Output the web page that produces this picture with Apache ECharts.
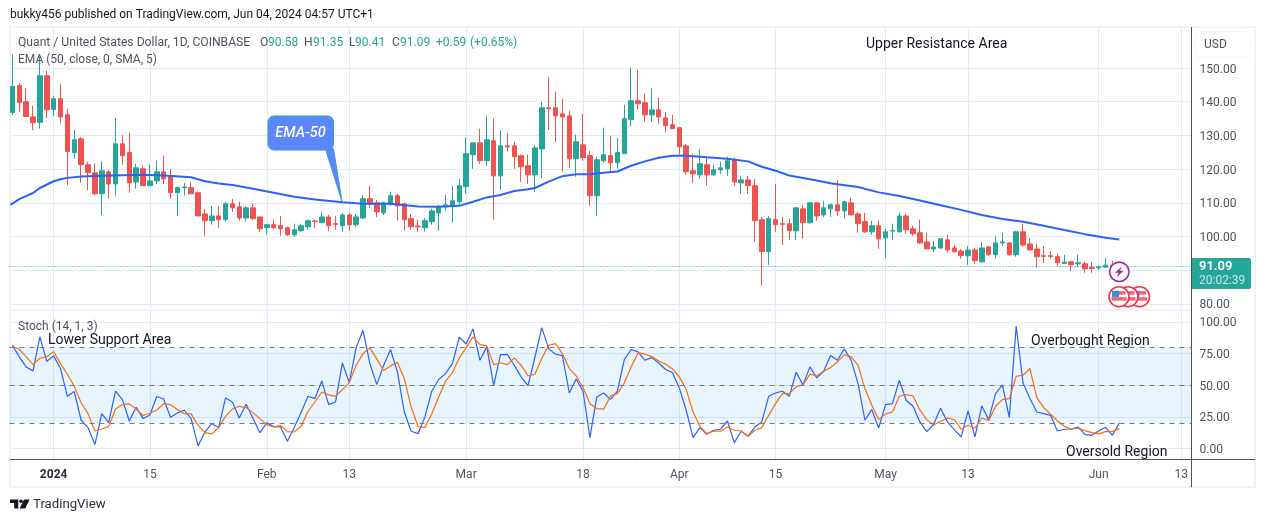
<!DOCTYPE html>
<html><head><meta charset="utf-8">
<style>html,body{margin:0;padding:0;background:#fff}#c{width:1265px;height:522px}</style>
<script src="https://cdn.jsdelivr.net/npm/echarts@6/dist/echarts.min.js"></script>
</head><body><div id="c"></div>
<script>
// Daily candles, index 0 = 26 Dec 2023, last = 4 Jun 2024: [open, close, low, high]
const ohlc = [
[136.8,144.5,136.1,154.0],[144.8,139.8,137.0,145.5],[140.0,135.6,135.6,144.1],[135.5,133.8,131.5,138.8],[133.9,147.7,132.0,153.5],
[147.7,137.6,135.2,149.2],[137.7,140.9,135.8,141.8],[140.9,135.5,133.5,145.3],[136.1,125.2,115.2,137.9],[124.9,128.7,123.1,131.7],
[129.0,121.3,115.9,129.5],[121.3,118.9,113.8,122.2],[118.9,112.7,112.2,121.6],[112.7,119.5,106.4,122.3],[119.2,115.6,111.2,119.8],
[115.6,127.5,112.1,135.2],[127.5,124.0,121.3,130.2],[124.9,115.9,113.0,130.8],[116.2,120.4,114.2,121.6],[120.1,115.1,115.1,121.0],
[115.1,116.5,115.1,121.3],[116.5,119.2,115.6,122.5],[119.2,117.1,115.6,124.0],[117.7,113.0,111.2,120.1],[113.0,114.5,106.1,114.8],
[114.5,114.7,112.1,115.9],[114.5,112.7,112.7,116.2],[113.0,106.1,106.1,113.4],[106.7,104.7,100.2,108.2],[104.7,106.1,103.5,109.1],
[106.1,105.0,102.6,109.1],[105.0,109.7,104.4,110.3],[109.7,108.5,107.3,111.2],[108.8,105.5,104.7,110.3],[105.5,108.5,104.4,109.1],
[108.5,105.3,105.0,109.7],[105.8,102.3,101.4,105.8],[102.6,103.5,100.5,103.8],[103.5,102.6,102.3,105.0],[103.2,102.3,100.2,106.1],
[102.6,100.5,100.2,102.9],[100.5,102.0,99.9,103.8],[101.7,103.2,101.4,103.8],[102.9,104.7,102.0,105.0],[104.6,104.4,102.6,105.0],
[104.1,105.8,104.1,107.3],[105.8,103.2,101.7,106.4],[103.8,103.6,102.0,106.1],[103.2,106.4,101.4,107.0],[106.4,103.5,101.7,107.0],
[103.5,105.8,102.9,106.7],[105.5,111.2,105.3,112.2],[111.2,109.7,108.5,115.1],[110.0,107.3,105.8,110.9],[107.0,110.0,106.4,110.3],
[109.7,112.1,109.1,113.3],[112.1,109.1,104.7,112.7],[109.7,105.0,101.7,110.0],[105.3,102.9,102.0,106.7],[103.1,102.9,101.4,105.0],
[102.6,104.7,101.4,105.5],[104.4,107.6,103.5,108.2],[107.0,108.8,101.7,109.4],[108.8,109.4,107.6,112.4],[109.1,110.6,104.1,115.1],
[110.3,115.1,109.4,117.1],[114.8,124.6,112.7,129.3],[124.3,127.8,120.1,127.8],[127.8,122.5,121.6,132.0],[122.5,128.7,121.0,135.8],
[128.4,118.0,105.0,135.0],[118.0,126.9,113.9,131.4],[126.9,126.6,125.2,130.8],[126.9,123.7,120.1,128.1],[124.0,120.7,116.2,124.3],
[121.0,118.3,115.6,124.3],[118.3,126.3,113.3,127.1],[126.0,138.2,117.4,140.0],[138.2,137.9,131.7,147.4],[138.2,135.8,128.1,143.0],
[136.4,135.5,119.2,140.9],[135.8,123.1,120.4,137.3],[123.1,128.1,117.7,130.2],[127.2,123.4,122.5,136.4],[124.0,112.1,109.1,125.4],
[112.1,122.8,106.1,123.7],[122.5,124.3,121.9,132.3],[124.0,121.9,118.9,129.9],[121.9,124.9,120.1,129.3],[124.6,135.0,124.6,139.1],
[134.7,140.3,132.6,150.1],[140.3,139.4,137.6,149.5],[139.7,136.1,134.1,142.4],[136.1,137.6,134.1,143.9],[137.6,135.5,133.5,141.2],
[135.2,132.9,131.1,137.0],[133.2,132.0,132.0,136.1],[132.3,126.6,124.3,132.3],[126.9,119.2,118.3,127.5],[119.5,118.6,115.9,124.6],
[118.3,121.6,117.1,126.0],[121.3,118.3,115.1,123.4],[118.3,119.8,118.0,121.3],[119.8,120.4,118.6,122.2],[120.1,122.5,118.0,123.7],
[122.8,116.2,115.1,123.4],[115.9,116.8,112.7,118.0],[116.8,115.1,112.7,118.0],[115.1,104.7,98.4,117.1],[105.0,95.5,85.4,105.8],
[95.5,105.3,91.6,106.1],[105.0,103.5,101.4,115.6],[103.8,103.6,97.5,105.8],[103.8,101.7,99.0,105.3],[101.7,108.5,99.0,108.8],
[108.2,104.1,99.3,109.4],[104.1,110.0,103.8,110.3],[110.0,106.1,104.7,110.0],[106.4,108.5,105.8,110.6],[108.2,109.4,105.8,109.7],
[109.4,107.6,106.1,116.8],[107.6,110.3,105.3,110.6],[110.0,106.4,106.4,111.5],[106.7,103.8,101.1,107.3],[104.4,101.4,101.1,107.0],
[101.4,103.2,100.5,104.7],[103.2,99.3,96.3,104.7],[99.6,101.4,93.7,102.3],[101.6,101.8,99.0,103.8],[101.4,106.1,101.1,107.0],
[106.1,102.0,100.8,106.7],[102.3,100.8,100.2,103.2],[101.1,98.1,97.8,105.0],[98.4,96.3,96.3,101.1],[96.3,96.9,95.4,98.7],
[96.6,99.3,96.3,99.6],[99.0,96.0,95.2,100.5],[96.6,95.5,95.2,97.5],[95.7,94.3,93.4,96.3],[94.3,96.0,91.6,97.2],
[96.0,92.8,91.9,96.6],[92.5,96.6,92.2,98.4],[96.9,94.6,94.3,97.2],[94.6,98.1,93.4,100.2],[98.1,98.4,97.2,101.1],
[98.1,94.6,94.3,98.4],[94.6,101.4,94.0,101.7],[101.4,97.5,96.9,103.8],[97.8,96.0,96.0,99.6],[96.3,94.0,90.7,97.8],
[94.3,94.1,92.2,97.2],[94.3,94.1,93.4,95.7],[94.0,92.2,91.3,94.9],[92.0,92.4,91.9,94.6],[92.5,91.6,89.8,92.5],
[91.9,92.2,91.0,94.6],[91.9,90.4,89.2,92.5],[90.8,90.5,89.2,92.5],[90.7,91.0,90.1,91.3],[90.9,91.5,90.7,93.7],
[91.5,90.6,90.2,92.8],[90.58,91.09,90.41,91.35]
];
// EMA-50: candle index and value
const emaIndex = [-0.3,1,3,4,6,7,8,10,13,16,19,22,26,28,30,32,35,38,41,44,48,51,55,59,62,65,67,69,71,73,75,76,78,80,82,84,86,88,90,92,94,96,98,101,104,107,109,111,113,116,119,120,123,126,129,132,135,138,141,144,147,150,153,156,159,161];
const emaValues = [109.4,111.1,112.9,114.4,116.4,117.0,117.4,117.8,118.0,118.2,118.3,118.1,117.6,116.4,115.7,115.3,114.2,113.0,111.8,111.0,110.2,109.7,109.7,108.9,108.8,109.1,110.3,111.6,112.3,113.5,114.0,114.4,116.3,117.9,118.5,118.5,118.9,119.3,121.0,122.3,123.4,124.0,124.0,123.5,123.1,122.3,120.7,119.5,118.1,117.0,115.8,115.5,114.7,113.1,112.0,110.7,109.3,107.9,106.4,105.2,104.4,103.2,101.9,100.7,99.6,99.1];
const stochK = [81.6,72.4,64.5,61.3,88.2,68.9,73.2,63.2,41.3,45.0,22.4,16.6,3.2,27.6,20.5,45.3,38.7,21.8,32.6,23.7,26.6,41.1,39.2,24.7,28.2,30.3,23.7,2.1,13.2,19.7,16.6,40.0,36.8,24.2,35.0,23.7,12.6,20.3,17.4,17.1,5.8,16.6,28.7,41.3,39.5,53.4,34.7,36.8,67.6,52.1,79.5,93.4,67.1,50.5,65.8,78.2,60.5,28.9,13.7,11.8,
25.0,45.3,54.5,59.2,67.1,87.9,82.6,94.5,69.7,80.3,50.0,74.2,74.2,65.8,56.6,49.7,72.1,95.5,78.9,74.5,73.4,43.9,55.0,45.3,8.7,40.8,43.9,38.9,45.3,70.3,78.2,76.3,69.7,71.8,67.6,62.4,60.0,47.9,30.3,8.7,16.6,11.3,14.5,15.3,21.8,4.7,13.7,9.7,17.1,21.1,41.3,43.9,45.3,41.3,60.3,50.3,64.5,55.8,61.1,73.4,69.7,
78.7,69.7,51.3,22.4,30.8,16.3,34.7,35.5,53.9,38.2,33.4,21.1,13.4,19.2,31.8,21.1,15.0,9.2,29.7,9.2,33.7,22.9,43.4,50.3,24.5,96.8,51.8,39.5,28.9,27.6,26.3,13.9,15.3,15.5,17.1,11.1,10.5,13.9,16.8,10.5,20.3];
const stochD = [80.8,78.4,72.4,66.3,71.3,72.4,76.6,67.1,58.7,49.2,36.1,27.6,13.9,15.5,17.4,31.3,34.7,35.3,31.3,26.1,27.9,30.5,35.5,34.7,30.8,27.6,27.4,18.4,12.6,11.6,16.6,25.5,31.3,33.4,32.4,28.4,23.7,18.9,17.1,18.2,13.4,13.2,17.6,29.5,36.8,44.7,42.4,41.3,46.6,52.1,65.8,75.0,79.5,70.8,61.6,65.3,68.2,55.3,32.9,17.6,
16.6,27.6,40.8,53.2,60.0,71.6,79.7,88.2,82.1,81.1,66.3,67.6,66.3,71.6,65.8,57.4,58.7,71.1,81.6,82.9,75.0,63.2,57.4,48.2,35.5,31.6,31.1,41.6,43.4,51.8,64.5,75.5,74.5,72.6,69.2,66.8,62.9,56.6,46.8,28.9,17.6,11.8,13.9,13.7,17.1,14.5,13.9,9.7,14.5,16.6,26.3,35.5,43.4,43.4,48.7,50.5,58.7,57.4,61.1,63.9,68.4,
74.2,72.4,65.8,47.4,34.2,22.9,27.4,28.9,41.3,42.6,41.6,30.3,22.9,18.4,21.6,24.2,22.9,15.3,18.4,16.1,24.2,22.1,33.4,38.7,39.5,57.1,57.9,63.2,40.3,32.4,27.1,21.8,17.6,15.3,16.1,14.2,12.6,11.6,13.4,13.4,15.8];
const tickIndex = [6,20,37,49,66,83,97,111,127,139,158,170];
const tickLabels = ['2024','15','Feb','13','Mar','18','Apr','15','May','13','Jun','13'];
const priceTicks = [80,90,100,110,120,130,140,150];
const stochTicks = [0,25,50,75,100];
const stochLevels = [80,50,20];
const lastPrice = 91.09;

const FONT = 'Roboto';
const UP='#26a69a', DOWN='#ef5350', GRID='#e2ebf3', GRAY='#50535e', DARK='#131722';
const labelFor = {}; tickIndex.forEach((d,i)=>labelFor[d]=tickLabels[i]);

function T(x,y,s,o){return Object.assign({},{type:'text',z:100,silent:true,style:Object.assign({x:x,y:y,text:s,fill:DARK,font:'12px '+FONT,verticalAlign:'middle',textAlign:'left'},o||{})});}
function shape(type,sh,st,z){return {type:type,z:z||90,silent:true,shape:sh,style:st};}
function flag(cx,cy,z){return [
  shape('circle',{cx:cx,cy:cy,r:10},{fill:'#fff',stroke:'#f23645',lineWidth:1.6},z),
  shape('rect',{x:cx-7.5,y:cy+0.5,width:15,height:3.5},{fill:'#f4636f'},z),
  shape('rect',{x:cx-0.5,y:cy-5.5,width:7,height:3.5},{fill:'#f4636f'},z),
  shape('rect',{x:cx-7,y:cy-6,width:7,height:6.5},{fill:'#3d8fe8'},z)
];}

const graphics = [
  shape('rect',{x:10,y:27,width:1245,height:460},{fill:'none',stroke:'#f0f3fa',lineWidth:2},1),
  shape('line',{x1:10,y1:310,x2:1191,y2:310},{stroke:'#f0f3fa',lineWidth:2},1),
  shape('line',{x1:1191.5,y1:27,x2:1191.5,y2:487},{stroke:'#50535e',lineWidth:1},95),
  shape('line',{x1:10,y1:459.5,x2:1255,y2:459.5},{stroke:'#50535e',lineWidth:1},95),
  T(10,15,'bukky456 published on TradingView.com, Jun 04, 2024 04:57 UTC+1'),
  T(18,42.5,'Quant / United States Dollar, 1D, COINBASE',{fill:GRAY,font:'12.15px '+FONT}),
  T(260,42.5,'O',{fill:GRAY}),T(268,42.5,'90.58',{fill:UP}),
  T(304,42.5,'H',{fill:GRAY}),T(313,42.5,'91.35',{fill:UP}),
  T(349,42.5,'L',{fill:GRAY}),T(355,42.5,'90.41',{fill:UP}),
  T(392,42.5,'C',{fill:GRAY}),T(400,42.5,'91.09',{fill:UP}),
  T(436,42.5,'+0.59',{fill:UP}),T(470,42.5,'(+0.65%)',{fill:UP}),
  T(18,59.5,'EMA (50, close, 0, SMA, 5)',{fill:GRAY}),
  T(18,326.5,'Stoch (14, 1, 3)',{fill:GRAY}),
  T(866,44.5,'Upper Resistance Area',{font:'14px '+FONT}),
  T(48,340.5,'Lower Support Area',{font:'14px '+FONT}),
  T(1031,341.5,'Overbought Region',{font:'14px '+FONT}),
  T(1066,452.5,'Oversold Region',{font:'14px '+FONT}),
  // EMA-50 callout
  shape('polygon',{points:[[325.5,149],[333.5,149],[342,201.5]]},{fill:'#5b87fb',stroke:'#2f9bd8',lineWidth:1},91),
  shape('rect',{x:268,y:116,width:65.5,height:34,r:6},{fill:'#5b87fb',stroke:'#2f9bd8',lineWidth:1},90),
  shape('polygon',{points:[[326.5,148],[333,148],[334,154],[327.5,152]]},{fill:'#5b87fb'},92),
  T(300.5,133,'EMA-50',{fill:'#fff',font:'italic 500 14.5px '+FONT,textAlign:'center'}),
  // USD button and price tag
  shape('rect',{x:1195.5,y:31.5,width:55,height:25.5,r:4},{fill:'#fff',stroke:'#f0f3fa',lineWidth:1},90),
  T(1204,44.5,'USD',{fill:GRAY}),
  shape('rect',{x:1192,y:258,width:59,height:31,r:[0,2,2,0]},{fill:UP},90),
  T(1199,266.5,'91.09',{fill:'#fff',font:'600 13px '+FONT}),
  T(1199,280.5,'20:02:39',{fill:'#c4e8e4'}),
  // event markers
  ...flag(1139.5,296.7,91),
  ...flag(1128,296.7,93),
  ...flag(1119,296.7,95),
  shape('circle',{cx:1119.3,cy:271.8,r:9.7},{fill:'#fff',stroke:'#9c27b0',lineWidth:1.6},96),
  shape('polygon',{points:[[1121.8,266.5],[1115,272.8],[1118.6,272.8],[1116.6,277.2],[1123.6,270.8],[1120,270.8]]},{fill:'#9c27b0'},97),
  // TradingView mark
  shape('polygon',{points:[[10,499.5],[18.3,499.5],[18.3,508.5],[14.2,508.5],[14.2,503],[10,503]]},{fill:DARK}),
  shape('circle',{cx:21,cy:501.3,r:1.8},{fill:DARK}),
  shape('polygon',{points:[[24,499.5],[29.6,499.5],[25.2,508.5],[19.6,508.5]]},{fill:DARK}),
  T(33,505,'TradingView',{fill:'#2a2e39',font:'13.2px '+FONT})
];

const xMin=-0.42, xMax=171.5;
function xAxis(gridIndex,showLabels){return {
  type:'value',gridIndex,min:xMin,max:xMax,
  axisLine:{show:false},
  axisTick:{show:false,customValues:tickIndex},
  splitLine:{show:true,lineStyle:{color:GRID,width:1}},
  axisLabel:{show:showLabels,customValues:tickIndex,margin:10,fontFamily:FONT,fontSize:12,color:GRAY,
    formatter:v=>labelFor[v]==='2024'?'{b|2024}':(labelFor[v]||''),
    rich:{b:{fontFamily:FONT,fontSize:12,fontWeight:'bold',color:'#2a2e39'}}}
};}
function yAxis(gridIndex,min,max,ticks){return {
  type:'value',gridIndex,position:'right',min,max,scale:true,
  axisLine:{show:false},
  axisTick:{show:false,customValues:ticks},
  splitLine:{show:true,lineStyle:{color:GRID,width:1}},
  axisLabel:{customValues:ticks,margin:8,fontFamily:FONT,fontSize:12,color:GRAY,align:'left',
    formatter:v=>'{p|'+v.toFixed(2)+'}',
    rich:{p:{fontFamily:FONT,fontSize:12,color:GRAY,padding:[3,0,0,0]}}}
};}

const option = {
  animation:false,backgroundColor:'#fff',
  grid:[{left:9.5,right:73.5,top:26.6,height:282},{left:9.5,right:73.5,top:311,height:148.4}],
  xAxis:[xAxis(0,false),xAxis(1,true)],
  yAxis:[yAxis(0,78.6,162.3,priceTicks),yAxis(1,-8.5,108.6,stochTicks)],
  graphic:{elements:graphics},
  series:[
    {type:'candlestick',xAxisIndex:0,yAxisIndex:0,barWidth:5,
     itemStyle:{color:UP,color0:DOWN,borderColor:UP,borderColor0:DOWN,borderWidth:1},
     data:ohlc.map((c,i)=>[i,c[0],c[1],c[2],c[3]]),
     markLine:{silent:true,symbol:'none',label:{show:false},lineStyle:{color:'#1aa89a',type:[1,2],width:1,opacity:1},data:[{yAxis:lastPrice}]}},
    {type:'line',xAxisIndex:0,yAxisIndex:0,showSymbol:false,smooth:false,lineStyle:{color:'#2962ff',width:2},
     data:emaIndex.map((d,i)=>[d,emaValues[i]])},
    {type:'line',xAxisIndex:1,yAxisIndex:1,showSymbol:false,lineStyle:{color:'#2962ff',width:1.2},
     data:stochK.map((v,i)=>[i,v]),
     markArea:{silent:true,itemStyle:{color:'rgba(33,150,243,0.1)'},data:[[{yAxis:stochLevels[0]},{yAxis:stochLevels[2]}]]},
     markLine:{silent:true,symbol:'none',label:{show:false},lineStyle:{color:'#787b86',type:[5,5],width:1},data:stochLevels.map(v=>({yAxis:v}))}},
    {type:'line',xAxisIndex:1,yAxisIndex:1,showSymbol:false,lineStyle:{color:'#ff6d00',width:1.2},
     data:stochD.map((v,i)=>[i,v])}
  ]
};
echarts.init(document.getElementById('c')).setOption(option);
</script></body></html>
